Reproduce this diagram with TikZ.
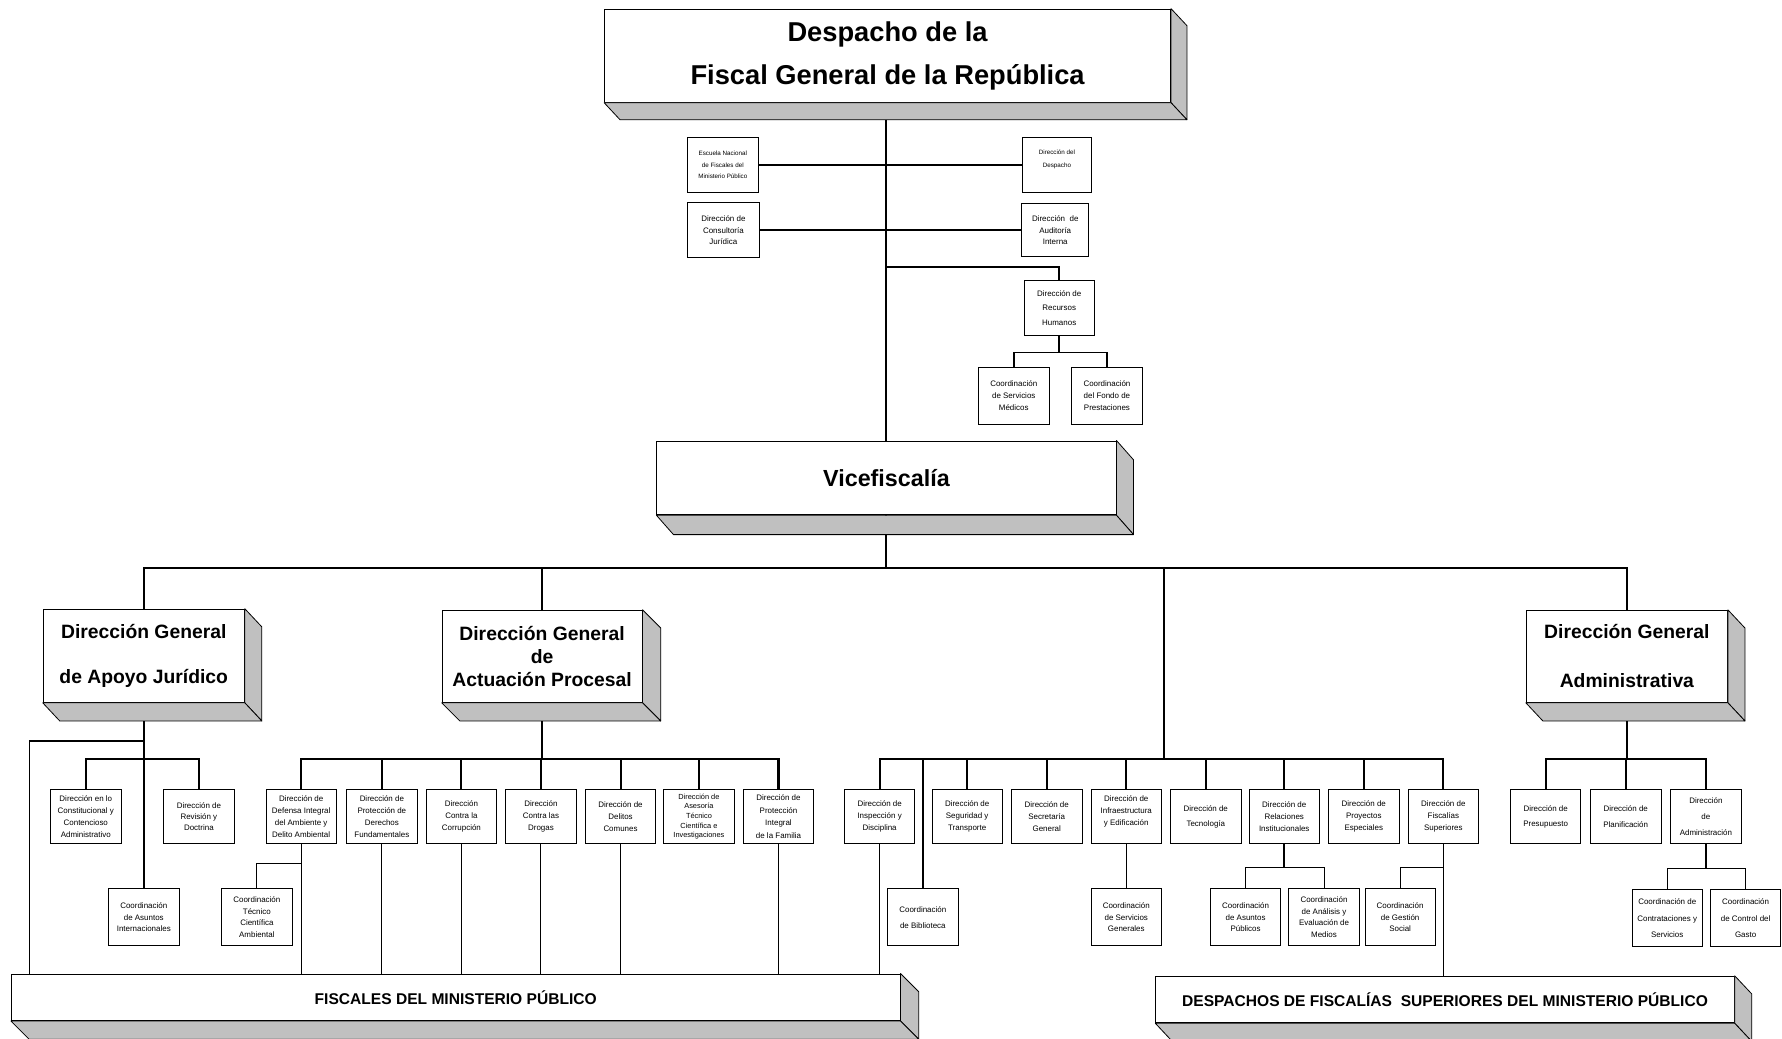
\documentclass[tikz,border=0pt]{standalone}
\usepackage{fontspec}
\setmainfont{Liberation Sans}
\definecolor{gris}{RGB}{192,192,192}
\pgfdeclarelayer{fondo}
\pgfsetlayers{fondo,main}
% caras grises de una caja en relieve
\newcommand{\sombra}[3]{%
	\filldraw[fill=gris, line width=0.7pt, line join=round] (#1.north east) -- ++(#2,#3) -- ([shift={(#2,#3)}]#1.south east) -- (#1.south east) -- cycle;
	\filldraw[fill=gris, line width=0.7pt, line join=round] (#1.south west) -- ++(#2,#3) -- ([shift={(#2,#3)}]#1.south east) -- (#1.south east) -- cycle;
}

\begin{document}
\begin{tikzpicture}[x=1pt,y=-1pt,
	caja/.style={draw, fill=white, line width=0.7pt, minimum width=62pt, minimum height=47pt, inner sep=0pt, align=center, font=\fontsize{7}{10.3}\selectfont},
	cajasep/.style={caja, font=\fontsize{7}{13.5}\selectfont},
	coord/.style={caja, minimum height=50pt},
	general/.style={draw, fill=white, line width=0.8pt, minimum width=177pt, minimum height=82pt, inner sep=0pt, align=center},
	barra/.style={draw, fill=white, line width=0.8pt, minimum height=41pt, inner sep=0pt, font=\fontsize{13.7}{16}\selectfont\bfseries},
	grueso/.style={line width=1.8pt},
	semi/.style={line width=1.4pt},
	fino/.style={line width=0.9pt}]

	\useasboundingbox (0,0) rectangle (1568,914);

	% despacho
	\node[general, minimum width=498pt, font=\fontsize{24}{38}\selectfont\bfseries] (fiscal) at (781,49) {Despacho de la\\Fiscal General de la República};
	\sombra{fiscal}{14}{15}

	\node[caja, minimum height=48pt, font=\fontsize{5.5}{10.4}\selectfont] (escuela) at (636,145) {Escuela Nacional\\de Fiscales del\\Ministerio Público};
	\node[caja, minimum width=60pt, minimum height=48pt, font=\fontsize{5.5}{11.5}\selectfont] (desp) at (930,145) {Dirección del\\Despacho\\\mbox{}};
	\node[caja, minimum width=63pt, minimum height=48pt] (consultoria) at (636.5,202.5) {Dirección de\\Consultoría\\Jurídica};
	\node[caja, minimum width=59pt] (auditoria) at (928.5,202.5) {Dirección~ de\\Auditoría\\Interna};
	\node[caja, minimum height=48pt, font=\fontsize{7}{12.6}\selectfont] (rrhh) at (932,271) {Dirección de\\Recursos\\Humanos};
	\node[coord] (medicos) at (892,348) {Coordinación\\de Servicios\\Médicos};
	\node[coord] (prestaciones) at (974,348) {Coordinación\\del Fondo de\\Prestaciones};

	% vicefiscalia
	\node[general, minimum width=404pt, minimum height=65pt, font=\fontsize{20.5}{24}\selectfont\bfseries] (vice) at (780,420.5) {Vicefiscalía};
	\sombra{vice}{15}{17}

	\node[general, font=\fontsize{17}{40}\selectfont\bfseries] (apoyo) at (126.5,577) {Dirección General\\de Apoyo Jurídico};
	\sombra{apoyo}{15}{16}
	\node[general, minimum width=176pt, minimum height=81pt, font=\fontsize{17}{20}\selectfont\bfseries] (actuacion) at (477,577.5) {Dirección General\\de\\Actuación Procesal};
	\sombra{actuacion}{16}{16}
	\node[general, minimum height=81pt, font=\fontsize{17}{43}\selectfont\bfseries] (admin) at (1431.5,577.5) {Dirección General\\Administrativa};
	\sombra{admin}{15}{16}

	% apoyo juridico
	\node[caja] (constit) at (75.5,718.5) {Dirección en lo\\Constitucional y\\Contencioso\\Administrativo};
	\node[caja, font=\fontsize{7}{9.7}\selectfont] (revision) at (175,718.5) {Dirección de\\Revisión y\\Doctrina};
	\node[coord] (internac) at (126.5,807) {Coordinación\\de Asuntos\\Internacionales};

	% actuacion procesal
	\node[caja] (defensa) at (265,718.5) {Dirección de\\Defensa Integral\\del Ambiente y\\Delito Ambiental};
	\node[caja] (proteccion) at (336,718.5) {Dirección de\\Protección de\\Derechos\\Fundamentales};
	\node[caja] (corrupcion) at (406,718.5) {Dirección\\Contra la\\Corrupción};
	\node[caja] (drogas) at (476,718.5) {Dirección\\Contra las\\Drogas};
	\node[caja] (delitos) at (546,718.5) {Dirección de\\Delitos\\Comunes};
	\node[caja, font=\fontsize{6.5}{8.5}\selectfont] (asesoria) at (615,718.5) {Dirección de\\Asesoría\\Técnico\\Científica e\\Investigaciones};
	\node[caja, font=\fontsize{7}{10.9}\selectfont] (familia) at (685,718.5) {Dirección de\\Protección\\Integral\\de la Familia};
	\node[coord] (tecnico) at (226,807) {Coordinación\\Técnico\\Científica\\Ambiental};

	% direcciones de la vicefiscalia
	\node[caja] (inspeccion) at (774,718.5) {Dirección de\\Inspección y\\Disciplina};
	\node[caja] (seguridad) at (851,718.5) {Dirección de\\Seguridad y\\Transporte};
	\node[caja] (secretaria) at (921,718.5) {Dirección de\\Secretaría\\General};
	\node[caja] (infra) at (991,718.5) {Dirección de\\Infraestructura\\y Edificación\\\mbox{}};
	\node[cajasep, font=\fontsize{7}{12.9}\selectfont] (tecnologia) at (1061,718.5) {Dirección de\\Tecnología};
	\node[caja] (relaciones) at (1130,718.5) {Dirección de\\Relaciones\\Institucionales};
	\node[caja] (proyectos) at (1200,718.5) {Dirección de\\Proyectos\\Especiales};
	\node[caja] (fiscsup) at (1270,718.5) {Dirección de\\Fiscalías\\Superiores};
	\node[coord, font=\fontsize{7}{14}\selectfont] (biblioteca) at (812,807) {Coordinación\\de Biblioteca};
	\node[coord] (servgen) at (991,807) {Coordinación\\de Servicios\\Generales};
	\node[coord] (asuntos) at (1096,807) {Coordinación\\de Asuntos\\Públicos};
	\node[coord] (analisis) at (1165,807) {Coordinación\\de Análisis y\\Evaluación de\\Medios};
	\node[coord] (gestion) at (1232,807) {Coordinación\\de Gestión\\Social};

	% administrativa
	\node[cajasep, font=\fontsize{7}{13.3}\selectfont] (presupuesto) at (1360,718.5) {Dirección de\\Presupuesto};
	\node[cajasep, font=\fontsize{7}{13.3}\selectfont] (planificacion) at (1430.5,718.5) {Dirección de\\Planificación};
	\node[cajasep, font=\fontsize{7}{13.8}\selectfont] (administracion) at (1501,718.5) {Dirección\\de\\Administración};
	\node[coord, font=\fontsize{7}{14.5}\selectfont] (contrat) at (1467,808) {Coordinación de\\Contrataciones y\\Servicios};
	\node[coord, font=\fontsize{7}{14.5}\selectfont] (control) at (1536,808) {Coordinación\\de Control del\\Gasto};

	% fiscales
	\node[barra, minimum width=782pt] (fiscales) at (401,877.5) {FISCALES DEL MINISTERIO PÚBLICO};
	\sombra{fiscales}{16}{16}
	\node[barra, minimum width=509pt] (despachos) at (1271.5,879.5) {DESPACHOS DE FISCALÍAS\ \ SUPERIORES DEL MINISTERIO PÚBLICO};
	\sombra{despachos}{15}{16}

	\begin{pgfonlayer}{fondo}
		\draw[grueso] (fiscal.south -| vice) -- (vice);
		\draw[grueso] (escuela) -- (desp);
		\draw[grueso] (consultoria) -- (auditoria);
		\coordinate (rh0) at (780,235);
		\draw[grueso] (rh0) -| (rrhh);
		\coordinate (rh1) at (932,310);
		\draw[semi] (rrhh) -- (rh1);
		\draw[semi] (medicos) |- (rh1) -| (prestaciones);

		\coordinate (bus) at (780,500);
		\draw[grueso] (vice) -- (bus);
		\draw[grueso] (apoyo) |- (bus) -| (admin);
		\draw[grueso] (actuacion) -- (actuacion |- bus);
		\coordinate (cm) at (1024,668);
		\draw[grueso] (cm) -- (cm |- bus);

		% apoyo juridico
		\draw[grueso] (apoyo) -- (internac);
		\coordinate (ap1) at (126.5,668);
		\draw[grueso] (constit) |- (ap1) -| (revision);
		\coordinate (ap0) at (126.5,652);
		\coordinate (ap2) at (26,857);
		\draw[fino] (ap0) -| (ap2);

		% actuacion procesal
		\coordinate (ac1) at (477,668);
		\draw[grueso] (actuacion) -- (ac1);
		\draw[grueso] (defensa) |- (ac1) -| (familia);
		\foreach \n in {proteccion,corrupcion,drogas,delitos,asesoria}
			\draw[grueso] (\n) -- (\n |- ac1);
		\foreach \n in {defensa,proteccion,corrupcion,drogas,delitos,familia}
			\draw[fino] (\n) -- (\n |- fiscales.north);
		\coordinate (df) at (265,760);
		\draw[fino] (tecnico) |- (df);

		% direcciones de la vicefiscalia
		\draw[grueso] (inspeccion) |- (cm) -| (fiscsup);
		\foreach \n in {seguridad,secretaria,infra,tecnologia,relaciones,proyectos,biblioteca}
			\draw[grueso] (\n) -- (\n |- cm);
		\draw[fino] (inspeccion) -- (inspeccion |- fiscales.north);
		\draw[fino] (infra) -- (servgen);
		\coordinate (rl) at (1130,763);
		\draw[semi] (relaciones) -- (rl);
		\draw[fino] (asuntos) |- (rl) -| (analisis);
		\draw[fino] (fiscsup) -- (fiscsup |- despachos.north);
		\coordinate (fs) at (1270,763);
		\draw[fino] (gestion) |- (fs);

		% administrativa
		\coordinate (ad1) at (1431.5,668);
		\draw[semi] (admin) -- (ad1);
		\draw[grueso] (presupuesto) |- (ad1) -| (administracion);
		\draw[grueso] (planificacion) -- (planificacion |- ad1);
		\coordinate (ad2) at (1501,764);
		\draw[grueso] (administracion) -- (ad2);
		\draw[fino] (contrat) |- (ad2) -| (control);
	\end{pgfonlayer}

\end{tikzpicture}
\end{document}
